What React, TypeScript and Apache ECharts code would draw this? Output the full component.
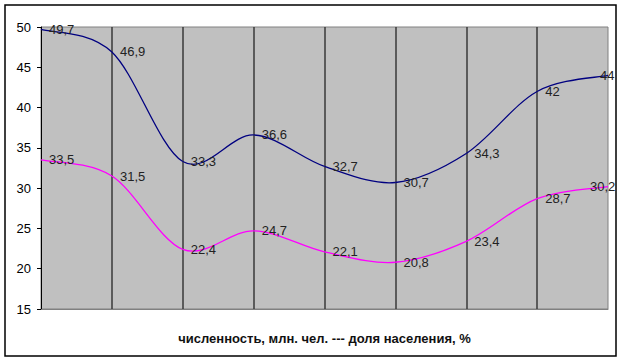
import React, { useEffect, useRef } from "react";
import * as echarts from "echarts";

const categories = ["1", "2", "3", "4", "5", "6", "7", "8", "9"];
const populationMillions = [49.7, 46.9, 33.3, 36.6, 32.7, 30.7, 34.3, 42, 44];
const sharePercent = [33.5, 31.5, 22.4, 24.7, 22.1, 20.8, 23.4, 28.7, 30.2];
const axisTitle = "численность, млн. чел. --- доля населения, %";

function buildData(values: number[], lastOffset: number) {
  return values.map((v, i) =>
    i === values.length - 1
      ? { value: v, label: { offset: [lastOffset, 0] } }
      : { value: v }
  );
}

// Catmull-Rom style smoothed segment (like Excel's smoothed line), each segment
// from point i to i+1 computed in pixel space via the chart's own scales.
function curveSeries(values: number[], color: string) {
  return {
    type: "custom",
    data: values.slice(0, -1).map((v, i) => [i, v]),
    clip: false,
    silent: true,
    z: 3,
    renderItem: (params: any, api: any) => {
      const i = api.value(0) as number;
      const n = values.length;
      const pt = (k: number) => {
        const kk = Math.max(0, Math.min(n - 1, k));
        return api.coord([kk, values[kk]]);
      };
      const p0 = pt(i - 1);
      const p1 = pt(i);
      const p2 = pt(i + 1);
      const p3 = pt(i + 2);
      const t = 1 / 6;
      return {
        type: "bezierCurve",
        shape: {
          x1: p1[0],
          y1: p1[1],
          x2: p2[0],
          y2: p2[1],
          cpx1: p1[0] + (p2[0] - p0[0]) * t,
          cpy1: p1[1] + (p2[1] - p0[1]) * t,
          cpx2: p2[0] - (p3[0] - p1[0]) * t,
          cpy2: p2[1] - (p3[1] - p1[1]) * t,
        },
        style: { stroke: color, lineWidth: 1.3, fill: "none" },
      };
    },
  };
}

export default function App() {
  const ref = useRef<HTMLDivElement>(null);
  useEffect(() => {
    if (!ref.current) return;
    const chart = echarts.init(ref.current, null, { renderer: "svg" });
    const labelCommon = {
      show: true,
      position: "right",
      distance: 8,
      color: "#222",
      fontSize: 13,
      fontFamily: "Liberation Sans, Arial, sans-serif",
      formatter: (p: any) => String(p.value).replace(".", ","),
    };
    chart.setOption({
      animation: false,
      backgroundColor: "#fff",
      textStyle: { fontFamily: "Liberation Sans, Arial, sans-serif" },
      graphic: [
        {
          type: "rect",
          shape: { x: 5, y: 5, width: 611, height: 351 },
          style: { fill: "none", stroke: "#000", lineWidth: 1.5 },
          z: -1,
        },
      ],
      grid: {
        left: 41,
        top: 27,
        right: 15,
        bottom: 51,
        show: true,
        backgroundColor: "#c0c0c0",
        borderColor: "#808080",
        borderWidth: 1,
      },
      xAxis: {
        type: "category",
        data: categories,
        boundaryGap: false,
        name: axisTitle,
        nameLocation: "middle",
        nameGap: 23,
        nameTextStyle: { fontSize: 13, fontWeight: "bold", color: "#111" },
        axisLine: { show: true, lineStyle: { color: "#808080", width: 1 } },
        axisTick: { show: false },
        axisLabel: { show: false },
        splitLine: {
          show: true,
          lineStyle: {
            width: 1.5,
            color: [
              "rgba(0,0,0,0)",
              "#3a3a3a",
              "#3a3a3a",
              "#3a3a3a",
              "#3a3a3a",
              "#3a3a3a",
              "#3a3a3a",
              "#3a3a3a",
              "rgba(0,0,0,0)",
            ],
          },
        },
      },
      yAxis: {
        type: "value",
        min: 15,
        max: 50,
        interval: 5,
        axisLine: { show: true, lineStyle: { color: "#000", width: 1 } },
        axisTick: { show: true, length: 4, lineStyle: { color: "#000" } },
        axisLabel: { color: "#000", fontSize: 13, margin: 10 },
        splitLine: { show: false },
      },
      series: [
        curveSeries(populationMillions, "#000080"),
        curveSeries(sharePercent, "#ff00ff"),
        {
          type: "line",
          data: buildData(populationMillions, -16),
          symbol: "circle",
          symbolSize: 0.1,
          showSymbol: true,
          lineStyle: { width: 0, opacity: 0 },
          itemStyle: { color: "rgba(0,0,0,0)" },
          label: labelCommon,
          z: 4,
        },
        {
          type: "line",
          data: buildData(sharePercent, -26),
          symbol: "circle",
          symbolSize: 0.1,
          showSymbol: true,
          lineStyle: { width: 0, opacity: 0 },
          itemStyle: { color: "rgba(0,0,0,0)" },
          label: labelCommon,
          z: 4,
        },
      ],
    });
    return () => chart.dispose();
  }, []);
  return (
    <div
      ref={ref}
      style={{ position: "fixed", left: 0, top: 0, width: 623, height: 360 }}
    />
  );
}
